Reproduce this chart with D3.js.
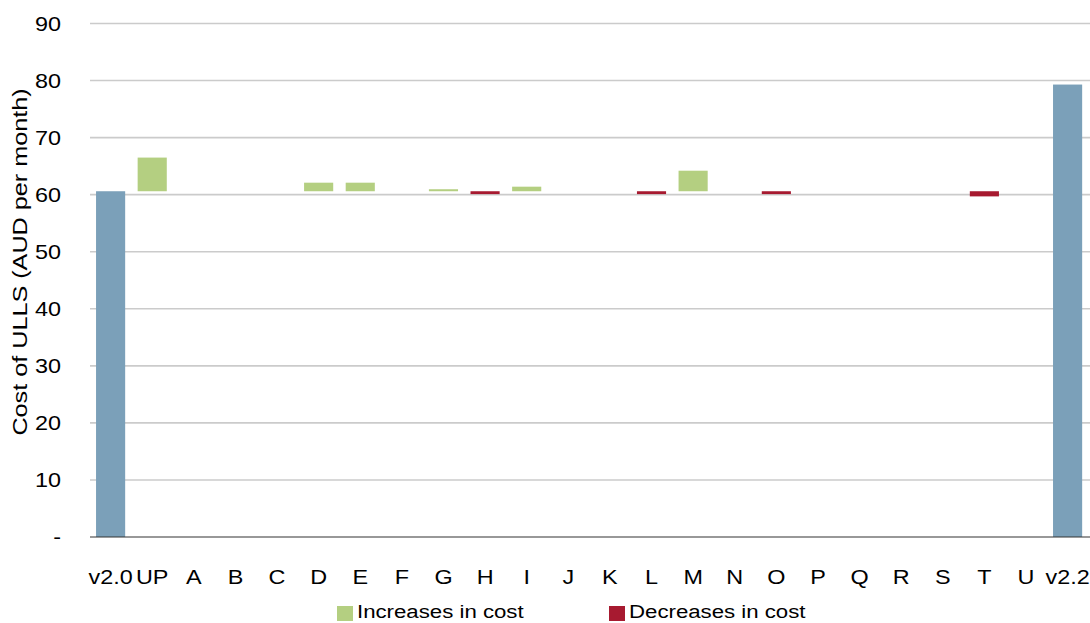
<!DOCTYPE html>
<html>
<head>
<meta charset="utf-8">
<script src="https://cdn.jsdelivr.net/npm/d3@7"></script>
<style>
  html, body { margin: 0; padding: 0; background: #ffffff; }
  svg { display: block; font-family: "Liberation Sans", Arial, sans-serif; }
</style>
</head>
<body>
<svg id="chart" width="1090" height="623"></svg>
<script>
// Categories along the x axis: start version, individual changes, end version
const categories = ["v2.0", "UP", "A", "B", "C", "D", "E", "F", "G", "H", "I", "J",
                    "K", "L", "M", "N", "O", "P", "Q", "R", "S", "T", "U", "v2.2"];

// Cost of the start and end versions (AUD per month)
const startCost = 60.6;
const endCost = 79.3;

// Change in cost attributed to each adjustment, measured from the start cost
const changeValues = [5.9, 0, 0, 0, 1.5, 1.5, 0, 0.35, -0.5, 0.8, 0,
                      0, -0.5, 3.6, 0, -0.5, 0, 0, 0, 0, -0.9, 0];
const changeLabels = categories.slice(1, -1);

// Y axis ticks; zero is shown as a dash
const yTicks = [0, 10, 20, 30, 40, 50, 60, 70, 80, 90];
const yTickLabels = ["-", "10", "20", "30", "40", "50", "60", "70", "80", "90"];

const legendItems = ["Increases in cost", "Decreases in cost"];

const colors = { total: "#7ba0b9", up: "#b4cf81", down: "#a71a30" };
const stretch = 1.17;

const svg = d3.select("#chart");

const x = d3.scaleBand()
  .domain(categories)
  .range([89.8, 1088.4])
  .paddingInner(0.3)
  .paddingOuter(0.15);

const y = d3.scaleLinear().domain([0, 90]).range([537, 23.5]);

// Horizontal gridlines
svg.append("g")
  .selectAll("line")
  .data(yTicks.filter(d => d > 0))
  .join("line")
  .attr("x1", 90).attr("x2", 1090)
  .attr("y1", d => y(d)).attr("y2", d => y(d))
  .attr("stroke", "#cbcbcb")
  .attr("stroke-width", 1.6);

// Y tick labels
svg.append("g")
  .selectAll("text")
  .data(yTicks)
  .join("text")
  .attr("transform", d => `translate(61,${y(d)}) scale(${stretch},1)`)
  .attr("text-anchor", "end")
  .attr("dy", "0.35em")
  .attr("font-size", 20)
  .attr("fill", "#000")
  .text((d, i) => yTickLabels[i]);

// Y axis title
svg.append("text")
  .attr("transform", "translate(27,262) rotate(-90) scale(1.2,1)")
  .attr("text-anchor", "middle")
  .attr("font-size", 21)
  .attr("fill", "#000")
  .text("Cost of ULLS (AUD per month)");

// Start and end totals
const totals = [
  { cat: categories[0], value: startCost },
  { cat: categories[categories.length - 1], value: endCost }
];
svg.append("g")
  .selectAll("rect")
  .data(totals)
  .join("rect")
  .attr("x", d => x(d.cat))
  .attr("width", x.bandwidth())
  .attr("y", d => y(d.value))
  .attr("height", d => y(0) - y(d.value))
  .attr("fill", colors.total);

// Floating change bars starting at the start cost
const changes = changeLabels.map((c, i) => ({ cat: c, delta: changeValues[i] }))
  .filter(d => d.delta !== 0);
svg.append("g")
  .selectAll("rect")
  .data(changes)
  .join("rect")
  .attr("x", d => x(d.cat))
  .attr("width", x.bandwidth())
  .attr("y", d => y(Math.max(startCost, startCost + d.delta)))
  .attr("height", d => Math.abs(y(startCost) - y(startCost + d.delta)))
  .attr("fill", d => d.delta > 0 ? colors.up : colors.down);

// Baseline axis
svg.append("line")
  .attr("x1", 90).attr("x2", 1090)
  .attr("y1", y(0)).attr("y2", y(0))
  .attr("stroke", "#333")
  .attr("stroke-width", 1.2);

// Category labels
svg.append("g")
  .selectAll("text")
  .data(categories)
  .join("text")
  .attr("transform", d => `translate(${x(d) + x.bandwidth() / 2},584) scale(${stretch},1)`)
  .attr("text-anchor", "middle")
  .attr("font-size", 20)
  .attr("fill", "#000")
  .text(d => d);

// Legend
const legendX = [337, 609];
const legend = svg.append("g")
  .selectAll("g")
  .data(legendItems)
  .join("g")
  .attr("transform", (d, i) => `translate(${legendX[i]},0)`);
legend.append("rect")
  .attr("x", 0).attr("y", 606)
  .attr("width", 16).attr("height", 15)
  .attr("fill", (d, i) => i === 0 ? colors.up : colors.down);
legend.append("text")
  .attr("transform", `translate(20,618) scale(${stretch},1)`)
  .attr("font-size", 19)
  .attr("fill", "#000")
  .text(d => d);
</script>
</body>
</html>
